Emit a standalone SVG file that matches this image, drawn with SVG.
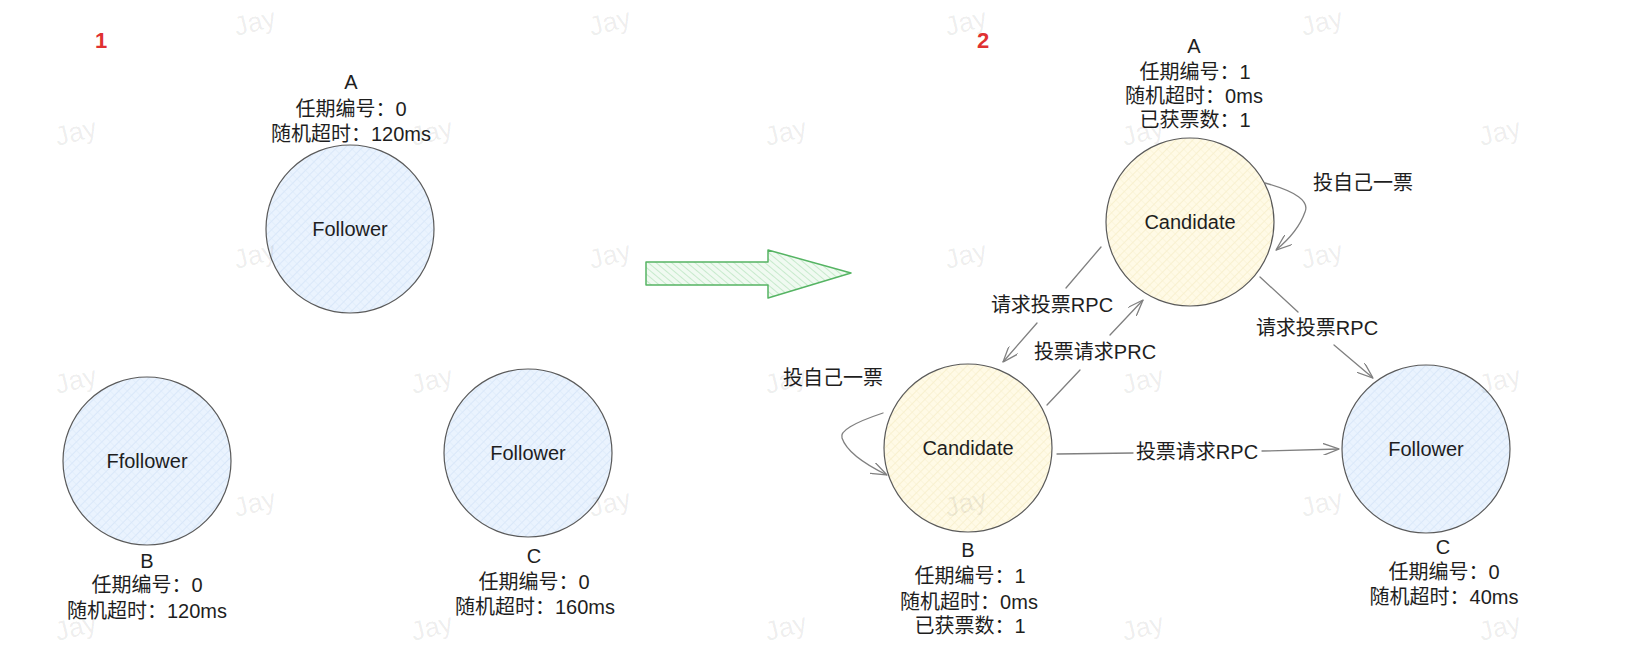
<svg xmlns="http://www.w3.org/2000/svg" width="1626" height="670" viewBox="0 0 1626 670">
<style>
  .t { font-family: "Liberation Sans", "Noto Sans CJK SC", sans-serif; font-size: 20px; fill: #1e1e1e; text-anchor: middle; }
  .num { font-family: "Liberation Sans", sans-serif; font-size: 22px; font-weight: bold; fill: #e03131; text-anchor: middle; }
  .node { stroke: #5a5a5a; stroke-width: 1.2; }
  .blue { fill: url(#hBlue); }
  .yellow { fill: url(#hYellow); }
  .edge { fill: none; stroke: #808080; stroke-width: 1.3; stroke-linecap: round; }
  .wm { font-family: "Liberation Sans", sans-serif; font-size: 27px; fill: #000; fill-opacity: 0.075; text-anchor: middle; }
</style>
<defs>
  <pattern id="hBlue" patternUnits="userSpaceOnUse" width="6" height="6" patternTransform="rotate(45)">
    <rect width="6" height="6" fill="#eaf3fe"/>
    <line x1="0" y1="0" x2="0" y2="6" stroke="#d2e3f7" stroke-width="1.4"/>
    <line x1="0" y1="0" x2="6" y2="0" stroke="#dbe9f9" stroke-width="1"/>
  </pattern>
  <pattern id="hYellow" patternUnits="userSpaceOnUse" width="6" height="6" patternTransform="rotate(45)">
    <rect width="6" height="6" fill="#fffae6"/>
    <line x1="0" y1="0" x2="0" y2="6" stroke="#f6edc6" stroke-width="1.4"/>
    <line x1="0" y1="0" x2="6" y2="0" stroke="#f8f0d0" stroke-width="1"/>
  </pattern>
  <pattern id="hGreen" patternUnits="userSpaceOnUse" width="5" height="5" patternTransform="rotate(-50)">
    <rect width="5" height="5" fill="#f0faf1"/>
    <line x1="0" y1="0" x2="0" y2="5" stroke="#b6e3bc" stroke-width="1.4"/>
  </pattern>
  <marker id="arr" viewBox="0 0 16 12" refX="16" refY="6" markerWidth="16" markerHeight="12" markerUnits="userSpaceOnUse" orient="auto">
    <path d="M0,0 L16,6 L0,12" fill="none" stroke="#808080" stroke-width="1.3" stroke-linecap="round"/>
  </marker>
</defs>
<rect width="1626" height="670" fill="#ffffff"/>

<text class="num" x="101" y="48">1</text>
<text class="num" x="983" y="48">2</text>

<g id="big-arrow">
  <polygon points="646,262 768,262 768,250 851,273 768,298 768,285 646,285" fill="url(#hGreen)" stroke="#55b463" stroke-width="1.5" stroke-linejoin="round"/>
</g>

<g id="left-A">
  <circle class="node blue" cx="350" cy="229" r="84"/>
  <text class="t" x="350" y="236">Follower</text>
  <text class="t" x="351" y="89">A</text>
  <text class="t" x="351" y="116">任期编号：0</text>
  <text class="t" x="351" y="141">随机超时：120ms</text>
</g>
<g id="left-B">
  <circle class="node blue" cx="147" cy="461" r="84"/>
  <text class="t" x="147" y="468">Ffollower</text>
  <text class="t" x="147" y="568">B</text>
  <text class="t" x="147" y="592">任期编号：0</text>
  <text class="t" x="147" y="618">随机超时：120ms</text>
</g>
<g id="left-C">
  <circle class="node blue" cx="528" cy="453" r="84"/>
  <text class="t" x="528" y="460">Follower</text>
  <text class="t" x="534" y="563">C</text>
  <text class="t" x="534" y="589">任期编号：0</text>
  <text class="t" x="535" y="614">随机超时：160ms</text>
</g>

<g id="right-A">
  <circle class="node yellow" cx="1190" cy="222" r="84"/>
  <text class="t" x="1190" y="229">Candidate</text>
  <text class="t" x="1194" y="53">A</text>
  <text class="t" x="1195" y="79">任期编号：1</text>
  <text class="t" x="1194" y="103">随机超时：0ms</text>
  <text class="t" x="1195" y="127">已获票数：1</text>
</g>
<g id="right-B">
  <circle class="node yellow" cx="968" cy="448" r="84"/>
  <text class="t" x="968" y="455">Candidate</text>
  <text class="t" x="968" y="557">B</text>
  <text class="t" x="970" y="583">任期编号：1</text>
  <text class="t" x="969" y="609">随机超时：0ms</text>
  <text class="t" x="970" y="633">已获票数：1</text>
</g>
<g id="right-C">
  <circle class="node blue" cx="1426" cy="449" r="84"/>
  <text class="t" x="1426" y="456">Follower</text>
  <text class="t" x="1443" y="554">C</text>
  <text class="t" x="1444" y="579">任期编号：0</text>
  <text class="t" x="1444" y="604">随机超时：40ms</text>
</g>

<g id="connectors">
  <path class="edge" d="M1101,247 L1066,288"/>
  <path class="edge" d="M1037,323 L1003,362" marker-end="url(#arr)"/>
  <text class="t" x="1052" y="312">请求投票RPC</text>

  <path class="edge" d="M1047,405 L1080,370"/>
  <path class="edge" d="M1110,335 L1143,300" marker-end="url(#arr)"/>
  <text class="t" x="1095" y="359">投票请求PRC</text>

  <path class="edge" d="M1260,277 L1298,312"/>
  <path class="edge" d="M1334,345 L1373,378" marker-end="url(#arr)"/>
  <text class="t" x="1317" y="335">请求投票RPC</text>

  <path class="edge" d="M1057,454 L1133,453"/>
  <path class="edge" d="M1262,451 L1339,449" marker-end="url(#arr)"/>
  <text class="t" x="1197" y="459">投票请求RPC</text>

  <path class="edge" d="M1265,183 Q1312,196 1305,212 Q1298,232 1276,250" marker-end="url(#arr)"/>
  <text class="t" x="1363" y="190">投自己一票</text>

  <path class="edge" d="M883,413 Q838,428 842,438 Q848,456 887,475" marker-end="url(#arr)"/>
  <text class="t" x="833" y="385">投自己一票</text>
</g>

<g id="watermarks">
  <text class="wm" transform="translate(257,31) rotate(-14)">Jay</text>
  <text class="wm" transform="translate(612,31) rotate(-14)">Jay</text>
  <text class="wm" transform="translate(968,31) rotate(-14)">Jay</text>
  <text class="wm" transform="translate(1324,31) rotate(-14)">Jay</text>
  <text class="wm" transform="translate(78,141) rotate(-14)">Jay</text>
  <text class="wm" transform="translate(434,141) rotate(-14)">Jay</text>
  <text class="wm" transform="translate(788,141) rotate(-14)">Jay</text>
  <text class="wm" transform="translate(1145,141) rotate(-14)">Jay</text>
  <text class="wm" transform="translate(1502,141) rotate(-14)">Jay</text>
  <text class="wm" transform="translate(257,264) rotate(-14)">Jay</text>
  <text class="wm" transform="translate(612,264) rotate(-14)">Jay</text>
  <text class="wm" transform="translate(968,264) rotate(-14)">Jay</text>
  <text class="wm" transform="translate(1324,264) rotate(-14)">Jay</text>
  <text class="wm" transform="translate(78,389) rotate(-14)">Jay</text>
  <text class="wm" transform="translate(434,389) rotate(-14)">Jay</text>
  <text class="wm" transform="translate(788,389) rotate(-14)">Jay</text>
  <text class="wm" transform="translate(1145,389) rotate(-14)">Jay</text>
  <text class="wm" transform="translate(1502,389) rotate(-14)">Jay</text>
  <text class="wm" transform="translate(257,512) rotate(-14)">Jay</text>
  <text class="wm" transform="translate(612,512) rotate(-14)">Jay</text>
  <text class="wm" transform="translate(968,512) rotate(-14)">Jay</text>
  <text class="wm" transform="translate(1324,512) rotate(-14)">Jay</text>
  <text class="wm" transform="translate(78,636) rotate(-14)">Jay</text>
  <text class="wm" transform="translate(434,636) rotate(-14)">Jay</text>
  <text class="wm" transform="translate(788,636) rotate(-14)">Jay</text>
  <text class="wm" transform="translate(1145,636) rotate(-14)">Jay</text>
  <text class="wm" transform="translate(1502,636) rotate(-14)">Jay</text>
</g>
</svg>
